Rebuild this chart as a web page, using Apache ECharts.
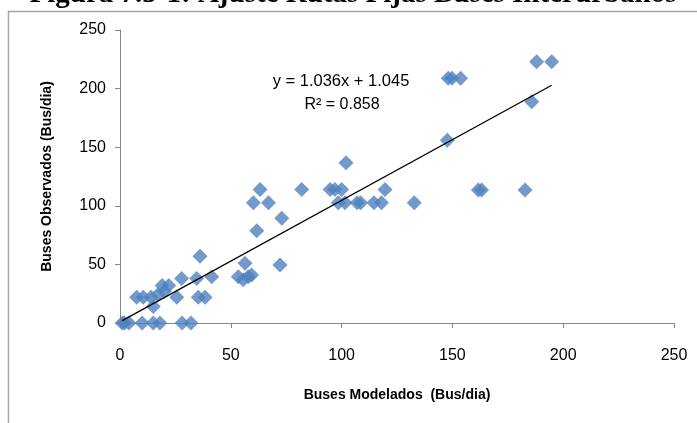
<!DOCTYPE html>
<html>
<head>
<meta charset="utf-8">
<script src="https://cdn.jsdelivr.net/npm/echarts@6/dist/echarts.min.js"></script>
<style>
body{margin:0;background:#fff;}
#chart{width:697px;height:423px;}
</style>
</head>
<body>
<div id="chart"></div>
<script>
// buses modelados (x) / observados (y)
let modelados = [1, 2, 4, 10, 15, 18, 28, 32,
    7.5, 10.5, 15, 14, 17, 19, 22, 20, 25.6, 27.8, 34.6, 35.3, 38.4, 41.4, 36.1,
    53.4, 55.6, 57.9, 59.4, 56.4, 72.2, 60.2, 67, 63.2, 61.7, 73, 82,
    94.8, 97, 100, 102, 98.5, 101.5, 107, 108.6, 114.6, 118, 119.6, 132.8,
    148.1, 149.8, 153.7, 147.7, 161.7, 163.2, 182.8, 185.8, 188, 194.8]
let observados = [0, 0, 0, 0, 0, 0, 0, 0,
    22, 22, 14, 22, 24, 32, 32, 27, 22, 38, 38, 22, 22, 39.5, 57,
    39.5, 37, 39.5, 41, 51, 49.5, 102.6, 102.6, 114, 78.8, 89.3, 114,
    114, 114, 114, 136.8, 102.6, 102.6, 102.6, 102.6, 102.6, 102.6, 114, 102.6,
    208.8, 208.8, 208.8, 156, 113.5, 113.5, 113.5, 188.8, 223, 223]
let axisTicks = [0, 50, 100, 150, 200, 250]
let pendiente = 1.036
let intercepto = 1.045
let ecuacion = 'y = 1.036x + 1.045'
let r2Texto = 'R² = 0.858'
let titulo = 'Figura 7.5-1: Ajuste Rutas Fijas Buses Interurbanos'

let puntos = modelados.map((x, i) => [x, observados[i]])
let xMin = Math.min(...modelados)
let xMax = Math.max(...modelados)
let tendencia = [
    [xMin, pendiente * xMin + intercepto],
    [xMax, pendiente * xMax + intercepto]
]

let ejeComun = {
    type: 'value',
    min: axisTicks[0],
    max: axisTicks[axisTicks.length - 1],
    interval: 50,
    splitLine: { show: false },
    axisLine: { show: true, lineStyle: { color: '#868686', width: 1 } },
    axisTick: { show: true, length: 5, lineStyle: { color: '#868686' } },
    axisLabel: { color: '#000', fontSize: 16, fontFamily: 'Liberation Sans' },
    nameLocation: 'middle',
    nameTextStyle: { color: '#000', fontSize: 14, fontWeight: 'bold', fontFamily: 'Liberation Sans' }
}

let option = {
    animation: false,
    backgroundColor: '#fff',
    grid: { left: 120, right: 23, top: 30, bottom: 100 },
    xAxis: Object.assign({}, ejeComun, {
        name: 'Buses Modelados  (Bus/dia)',
        nameGap: 65,
        axisLabel: Object.assign({}, ejeComun.axisLabel, { margin: 25 })
    }),
    yAxis: Object.assign({}, ejeComun, {
        name: 'Buses Observados (Bus/dia)',
        nameGap: 66,
        axisLabel: Object.assign({}, ejeComun.axisLabel, { margin: 14 })
    }),
    graphic: [
        {
            type: 'rect',
            shape: { x: 8.5, y: 11.5, width: 720, height: 440 },
            style: { fill: 'none', stroke: '#a6a6a6', lineWidth: 1.5 },
            z: -1
        },
        {
            type: 'text',
            x: 353,
            y: -20,
            style: {
                text: titulo,
                font: 'bold 29px "Liberation Serif"',
                fill: '#000',
                textAlign: 'center',
                textVerticalAlign: 'top'
            }
        },
        {
            type: 'text',
            x: 341,
            y: 81,
            style: {
                text: ecuacion,
                font: '16.5px "Liberation Sans"',
                fill: '#000',
                textAlign: 'center',
                textVerticalAlign: 'middle'
            }
        },
        {
            type: 'text',
            x: 342,
            y: 105,
            style: {
                text: r2Texto,
                font: '16px "Liberation Sans"',
                fill: '#000',
                textAlign: 'center',
                textVerticalAlign: 'middle'
            }
        }
    ],
    series: [
        {
            type: 'scatter',
            data: puntos,
            symbol: 'diamond',
            symbolSize: 15,
            itemStyle: { color: '#4f81bd' },
            z: 2
        },
        {
            type: 'line',
            data: tendencia,
            symbol: 'none',
            lineStyle: { color: '#000', width: 1.3 },
            z: 3
        }
    ]
}

let myChart = echarts.init(document.getElementById('chart'))
option && myChart.setOption(option)
</script>
</body>
</html>
